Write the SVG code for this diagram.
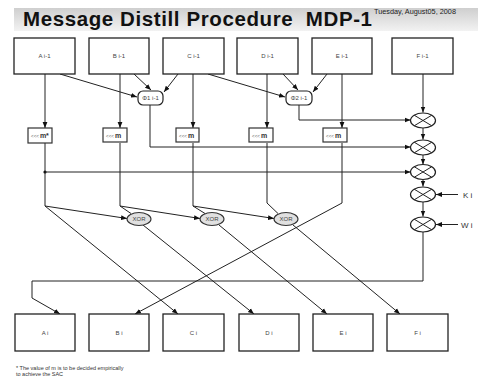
<svg xmlns="http://www.w3.org/2000/svg" width="478" height="381" viewBox="0 0 478 381">
  <defs>
    <linearGradient id="barFill" x1="0" y1="0" x2="0" y2="1">
      <stop offset="0" stop-color="#cfcfcf"/>
      <stop offset="1" stop-color="#f2f2f2"/>
    </linearGradient>
    <marker id="arr" markerUnits="userSpaceOnUse" markerWidth="6" markerHeight="6" viewBox="0 0 6 6" refX="6" refY="3" orient="auto">
      <path d="M0,0.6 L6,3 L0,5.4 Z" fill="#111"/>
    </marker>
    <style>
      .box { fill: #fff; stroke: #222; stroke-width: 1.3; }
      .sbox { fill: #fff; stroke: #333; stroke-width: 1.2; }
      .phi { fill: #fff; stroke: #222; stroke-width: 1.2; }
      .xor { fill: #e0e0e0; stroke: #333; stroke-width: 1.1; }
      .mul { fill: #fff; stroke: #222; stroke-width: 1.2; }
      .lbl { font-family: "Liberation Sans", Arial, sans-serif; font-size: 6px; fill: #444; text-anchor: middle; }
      .tiny { font-family: "Liberation Sans", Arial, sans-serif; font-size: 4.5px; fill: #666; }
      .mm { font-family: "Liberation Sans", Arial, sans-serif; font-size: 7px; font-weight: bold; fill: #333; }
      .side { font-family: "Liberation Sans", Arial, sans-serif; font-size: 8px; fill: #333; }
      .note { font-family: "Liberation Sans", Arial, sans-serif; font-size: 5.5px; fill: #333; }
      .ln { fill: none; stroke: #222; stroke-width: 1; }
      .la { fill: none; stroke: #222; stroke-width: 1; marker-end: url(#arr); }
    </style>
  </defs>

  <rect width="478" height="381" fill="#fff"/>

  <!-- heading bar -->
  <g id="title">
    <rect x="14" y="8" width="464" height="23" fill="url(#barFill)"/>
    <text x="23" y="26" font-family="Liberation Sans, Arial, sans-serif" font-size="20.5" font-weight="bold" letter-spacing="0.6" fill="#111">Message Distill Procedure&#160; MDP-1</text>
    <text x="374" y="14" font-family="Liberation Sans, Arial, sans-serif" font-size="7.3" fill="#222">Tuesday, August05, 2008</text>
  </g>

  <!-- connectors -->
  <g id="connectors">
    <!-- inputs to phi nodes -->
    <path class="la" d="M60,74 L137,97"/>
    <path class="la" d="M134,74 L151,90"/>
    <path class="la" d="M178,74 L164,92"/>
    <path class="la" d="M208,74 L285,97"/>
    <path class="la" d="M283,74 L298,90"/>
    <path class="la" d="M327,74 L313,92"/>
    <!-- rotations -->
    <path class="la" d="M45,74 V128"/>
    <path class="la" d="M120,74 V128"/>
    <path class="la" d="M193,74 V128"/>
    <path class="la" d="M267,74 V128"/>
    <path class="la" d="M342,74 V128"/>
    <path class="la" d="M423,74 V112.5"/>
    <!-- phi outputs to multiplier chain -->
    <path class="la" d="M299,105 V120 H410.5"/>
    <path class="la" d="M150,105 V147 H410.5"/>
    <!-- A branch -->
    <path class="ln" d="M45,143 V206"/>
    <circle cx="45" cy="172" r="1.6" fill="#111"/>
    <path class="la" d="M45,172 H410.5"/>
    <!-- multiplier chain -->
    <path class="la" d="M423,128 V139.5"/>
    <path class="la" d="M423,155 V164.5"/>
    <path class="la" d="M423,179.5 V186.5"/>
    <path class="la" d="M423,202 V216.5"/>
    <path class="la" d="M458,194.5 H436"/>
    <path class="la" d="M458,224.5 H436"/>
    <path class="la" d="M423,232 V281 H32 V298 L60,314"/>
    <!-- xor network -->
    <path class="la" d="M45,206 L127,218.5"/>
    <path class="la" d="M45,206 L178,314"/>
    <path class="la" d="M120,143 V206 L200,218.5"/>
    <path class="ln" d="M120,206 L131,213.5"/>
    <path class="la" d="M193,143 V206 L274,218.5"/>
    <path class="ln" d="M193,206 L205,213.5"/>
    <path class="ln" d="M267,143 V203 L278,213.5"/>
    <path class="la" d="M342,143 V203 L135,314"/>
    <path class="la" d="M143,225 L254,314"/>
    <path class="la" d="M219,225 L327,314"/>
    <path class="la" d="M293,225 L400,314"/>
  </g>

  <!-- input blocks -->
  <g id="A-prev"><rect class="box" x="14" y="38" width="61" height="36"/><text class="lbl" x="44.5" y="58">A i-1</text></g>
  <g id="B-prev"><rect class="box" x="89" y="38" width="60" height="36"/><text class="lbl" x="119" y="58">B i-1</text></g>
  <g id="C-prev"><rect class="box" x="163" y="38" width="61" height="36"/><text class="lbl" x="193.5" y="58">C i-1</text></g>
  <g id="D-prev"><rect class="box" x="237" y="38" width="61" height="36"/><text class="lbl" x="267.5" y="58">D i-1</text></g>
  <g id="E-prev"><rect class="box" x="312" y="38" width="60" height="36"/><text class="lbl" x="342" y="58">E i-1</text></g>
  <g id="F-prev"><rect class="box" x="392" y="38" width="61" height="36"/><text class="lbl" x="422.5" y="58">F i-1</text></g>

  <!-- phi functions -->
  <g id="phi1"><rect class="phi" x="138" y="91" width="25" height="14" rx="5"/><text class="lbl" x="150.5" y="100">Φ1 i-1</text></g>
  <g id="phi2"><rect class="phi" x="286" y="91" width="26" height="14" rx="5"/><text class="lbl" x="299" y="100">Φ2 i-1</text></g>

  <!-- rotation blocks -->
  <g id="rotA"><rect class="sbox" x="28" y="128" width="24" height="15"/><text x="31" y="137.5"><tspan class="tiny">&lt;&lt;&lt;</tspan><tspan class="mm" dx="1">m*</tspan></text></g>
  <g id="rotB"><rect class="sbox" x="103" y="128" width="24" height="14"/><text x="106" y="137.5"><tspan class="tiny">&lt;&lt;&lt;</tspan><tspan class="mm" dx="1">m</tspan></text></g>
  <g id="rotC"><rect class="sbox" x="176" y="128" width="23" height="14"/><text x="179" y="137.5"><tspan class="tiny">&lt;&lt;&lt;</tspan><tspan class="mm" dx="1">m</tspan></text></g>
  <g id="rotD"><rect class="sbox" x="249" y="128" width="24" height="14"/><text x="252" y="137.5"><tspan class="tiny">&lt;&lt;&lt;</tspan><tspan class="mm" dx="1">m</tspan></text></g>
  <g id="rotE"><rect class="sbox" x="323" y="128" width="24" height="14"/><text x="326" y="137.5"><tspan class="tiny">&lt;&lt;&lt;</tspan><tspan class="mm" dx="1">m</tspan></text></g>

  <!-- multipliers -->
  <g id="mul1"><ellipse class="mul" cx="423" cy="120.5" rx="12.5" ry="7.5"/><path class="ln" d="M414.2,115.2 L431.8,125.8 M414.2,125.8 L431.8,115.2"/></g>
  <g id="mul2"><ellipse class="mul" cx="423" cy="147.5" rx="12.5" ry="7.5"/><path class="ln" d="M414.2,142.2 L431.8,152.8 M414.2,152.8 L431.8,142.2"/></g>
  <g id="mul3"><ellipse class="mul" cx="423" cy="172" rx="12.5" ry="7.5"/><path class="ln" d="M414.2,166.7 L431.8,177.3 M414.2,177.3 L431.8,166.7"/></g>
  <g id="mul4"><ellipse class="mul" cx="423" cy="194.5" rx="12.5" ry="7.5"/><path class="ln" d="M414.2,189.2 L431.8,199.8 M414.2,199.8 L431.8,189.2"/></g>
  <g id="mul5"><ellipse class="mul" cx="423" cy="224.5" rx="12.5" ry="7.5"/><path class="ln" d="M414.2,219.2 L431.8,229.8 M414.2,229.8 L431.8,219.2"/></g>
  <g id="K"><text class="side" x="463" y="197.5">K i</text></g>
  <g id="W"><text class="side" x="461" y="227.5">W i</text></g>

  <!-- xor gates -->
  <g id="xor1"><ellipse class="xor" cx="139" cy="219" rx="12" ry="6.5"/><text class="lbl" x="139" y="221">XOR</text></g>
  <g id="xor2"><ellipse class="xor" cx="212" cy="219" rx="12" ry="6.5"/><text class="lbl" x="212" y="221">XOR</text></g>
  <g id="xor3"><ellipse class="xor" cx="286" cy="219" rx="12" ry="6.5"/><text class="lbl" x="286" y="221">XOR</text></g>

  <!-- output blocks -->
  <g id="A-out"><rect class="box" x="15" y="314" width="60" height="37"/><text class="lbl" x="45" y="334.5">A i</text></g>
  <g id="B-out"><rect class="box" x="89" y="314" width="60" height="37"/><text class="lbl" x="119" y="334.5">B i</text></g>
  <g id="C-out"><rect class="box" x="163" y="314" width="61" height="37"/><text class="lbl" x="193.5" y="334.5">C i</text></g>
  <g id="D-out"><rect class="box" x="239" y="314" width="60" height="37"/><text class="lbl" x="269" y="334.5">D i</text></g>
  <g id="E-out"><rect class="box" x="313" y="314" width="60" height="37"/><text class="lbl" x="343" y="334.5">E i</text></g>
  <g id="F-out"><rect class="box" x="387" y="314" width="61" height="37"/><text class="lbl" x="417.5" y="334.5">F i</text></g>

  <!-- footnote -->
  <g id="note">
    <text class="note" x="16" y="370">* The value of m is to be decided empirically</text>
    <text class="note" x="16" y="376">to achieve the SAC</text>
  </g>
</svg>
